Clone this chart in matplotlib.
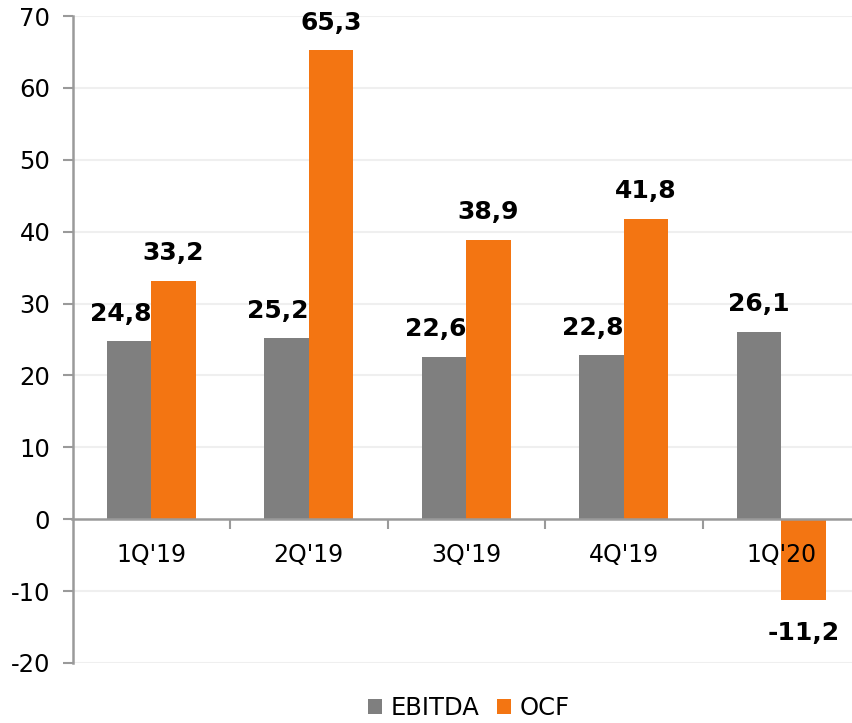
import matplotlib
matplotlib.use("Agg")
import matplotlib.pyplot as plt
import numpy as np

categories = ["1Q'19", "2Q'19", "3Q'19", "4Q'19", "1Q'20"]
ebitda = [24.8, 25.2, 22.6, 22.8, 26.1]
ocf = [33.2, 65.3, 38.9, 41.8, -11.2]
series_names = ["EBITDA", "OCF"]
yticks = [-20, -10, 0, 10, 20, 30, 40, 50, 60, 70]

GREY = "#7F7F7F"
ORANGE = "#F37512"
AXC = "#9A9A9A"

plt.rcParams['font.family'] = ['DejaVu Sans']

fig = plt.figure(figsize=(8.52, 7.23), dpi=100)
ax = fig.add_axes([72.5/852, 60/723, 787.5/852, 647/723])

x = np.arange(len(categories))
w = 0.283
b1 = ax.bar(x - w/2, ebitda, w, color=GREY, label=series_names[0], zorder=3)
b2 = ax.bar(x + w/2, ocf, w, color=ORANGE, label=series_names[1], zorder=3)

ax.set_xlim(-0.5, len(categories) - 0.5)
ax.set_ylim(-20, 70)
ax.set_yticks(yticks)
ax.set_yticklabels([str(t) for t in yticks])

for t in yticks:
    if t != 0:
        ax.axhline(t, color="#EFEFEF", lw=1.5, zorder=1)

# spines
for s in ["top", "right"]:
    ax.spines[s].set_visible(False)
ax.spines["left"].set_color(AXC)
ax.spines["left"].set_linewidth(1.8)
ax.spines["bottom"].set_position(("data", 0))
ax.spines["bottom"].set_color(AXC)
ax.spines["bottom"].set_linewidth(1.8)
ax.spines["bottom"].set_zorder(4)
ax.xaxis.set_zorder(5)

ax.tick_params(axis="y", direction="out", length=7, width=1.5, color=AXC,
               labelsize=17.5, pad=9)
ax.set_xticks(np.arange(len(categories) - 1) + 0.5)
ax.set_xticklabels([])
ax.tick_params(axis="x", which="major", direction="out", length=7, width=1.5, color=AXC)
ax.set_xticks(x, minor=True)
ax.set_xticklabels(categories, minor=True)
ax.tick_params(axis="x", which="minor", length=0, labelsize=17, pad=17)

# data labels
LS = 18
for i, (e, o) in enumerate(zip(ebitda, ocf)):
    dx = -6 if o > 0 else 0
    ax.annotate(f"{e:.1f}".replace(".", ","), (x[i] - w/2, e), xytext=(dx, 11),
                textcoords="offset points", ha="center", va="bottom",
                fontsize=LS, fontweight="bold", zorder=5)
    if o >= 0:
        ax.annotate(f"{o:.1f}".replace(".", ","), (x[i] + w/2, o), xytext=(0, 11),
                    textcoords="offset points", ha="center", va="bottom",
                    fontsize=LS, fontweight="bold", zorder=5)
    else:
        ax.annotate(f"{o:.1f}".replace(".", ","), (x[i] + w/2, o), xytext=(0, -15),
                    textcoords="offset points", ha="center", va="top",
                    fontsize=LS, fontweight="bold", zorder=5)

fig.legend(handles=[b1, b2], labels=series_names, loc="center",
           bbox_to_anchor=(469/852, 1 - 708/723), ncol=2, frameon=False,
           fontsize=17.5, handlelength=0.6, handleheight=0.6, handletextpad=0.35,
           columnspacing=0.7)

fig.savefig("out.png", dpi=100)
